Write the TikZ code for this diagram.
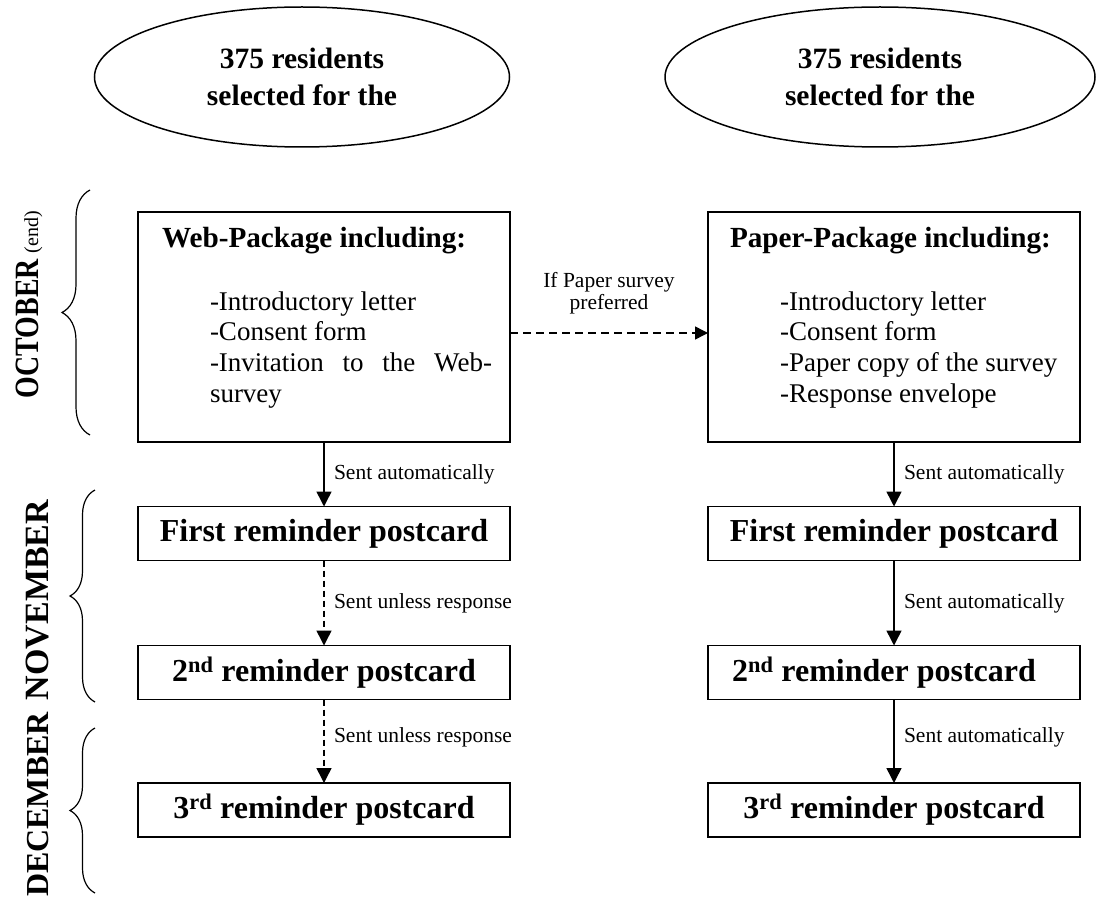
\documentclass[tikz,border=0pt]{standalone}
\usepackage{graphicx}
\usepackage{fontspec}
\setmainfont{Liberation Serif}
\usetikzlibrary{shapes.geometric,arrows.meta,decorations.pathreplacing,calc}
\begin{document}
\begin{tikzpicture}[x=1pt,y=-1pt,
  every node/.style={inner sep=0pt, outer sep=0pt},
  oval/.style={ellipse, draw, line width=1.5pt, minimum height=140pt, align=center, font=\fontsize{29.5}{37}\selectfont\bfseries},
  pkgbox/.style={draw, line width=1.6pt, minimum width=372pt, minimum height=230pt},
  remind/.style={draw, line width=1.6pt, minimum width=372pt, minimum height=54pt, font=\fontsize{32}{32}\selectfont\bfseries},
  pkgtitle/.style={anchor=base west, font=\fontsize{29.2}{31}\selectfont\bfseries},
  pkgitems/.style={anchor=base west, font=\fontsize{27}{30.8}\selectfont},
  flow/.style={line width=1.5pt, -{Triangle[length=15pt,width=15pt]}},
  maybe/.style={flow, dash pattern=on 6pt off 4pt},
  lab/.style={font=\fontsize{21.5}{22}\selectfont, anchor=west, xshift=10pt},
  month/.style={rotate=90, font=\fontsize{34}{34}\selectfont\bfseries},
  curly/.style={decorate, decoration={brace, amplitude=#1}, line width=1.2pt}
]
\clip (0,0) rectangle (1108,901);

% top ellipses
\node[oval, minimum width=415pt] (selweb) at (302,77) {375 residents\\selected for the};
\node[oval, minimum width=430pt] (selpaper) at (880,77) {375 residents\\selected for the};

% package boxes
\node[pkgbox] (web) at (324,327) {};
\node[pkgbox] (paper) at (894,327) {};
\node[pkgtitle] (webtitle) at (162,248) {Web-Package including:};
\node[pkgitems] (webitems) at (210,310) {\begin{tabular}[t]{@{}l@{}}-Introductory letter\\-Consent form\\\hbox to 282pt{-Invitation\hfill to\hfill the\hfill Web-}\\survey\end{tabular}};
\node[pkgtitle] (papertitle) at (730,248) {Paper-Package including:};
\node[pkgitems] (paperitems) at (780,310) {\begin{tabular}[t]{@{}l@{}}-Introductory letter\\-Consent form\\-Paper copy of the survey\\-Response envelope\end{tabular}};

% reminder boxes
\node[remind] (w1) at (324,533.5) {First reminder postcard};
\node[remind] (w2) at (324,672.5) {2\textsuperscript{nd} reminder postcard};
\node[remind] (w3) at (324,810) {3\textsuperscript{rd} reminder postcard};
\node[remind] (p1) at (894,533.5) {First reminder postcard};
\node[remind] (p2) at (894,672.5) {2\textsuperscript{nd} reminder postcard\hspace*{20pt}};
\node[remind] (p3) at (894,810) {3\textsuperscript{rd} reminder postcard};

% connectors
\draw[flow] (web) -- (w1) node[lab, midway] {Sent automatically};
\draw[maybe] (w1) -- (w2) node[lab, midway] {Sent unless response};
\draw[maybe] (w2) -- (w3) node[lab, pos=0.45] {Sent unless response};
\draw[flow] (paper) -- (p1) node[lab, midway] {Sent automatically};
\draw[flow] (p1) -- (p2) node[lab, midway] {Sent automatically};
\draw[flow] (p2) -- (p3) node[lab, pos=0.45] {Sent automatically};
\draw[line width=1.5pt, dash pattern=on 8pt off 5pt, -{Triangle[length=13pt,width=13pt]}]
  ($(web.east)+(0,6)$) -- ($(paper.west)+(0,6)$)
  node[midway, yshift=40pt, align=center, font=\fontsize{21.5}{22}\selectfont] (pref) {If Paper survey\\preferred};

% month braces
\draw[curly=28pt] (90,435) -- (90,190);
\draw[curly=25pt] (95,702) -- (95,490);
\draw[curly=25pt] (95,893) -- (95,728);
\node[month, anchor=base west] (oct) at (38,398) {\scalebox{0.82}[1]{OCTOBER}\hspace{6pt}{\fontsize{20}{20}\selectfont\mdseries(end)}};
\node[month, anchor=base west] (nov) at (48,700) {NOVEMBER};
\node[month, anchor=base east, font=\fontsize{32}{32}\selectfont\bfseries] (dec) at (48,712) {DECEMBER};
\end{tikzpicture}
\end{document}
